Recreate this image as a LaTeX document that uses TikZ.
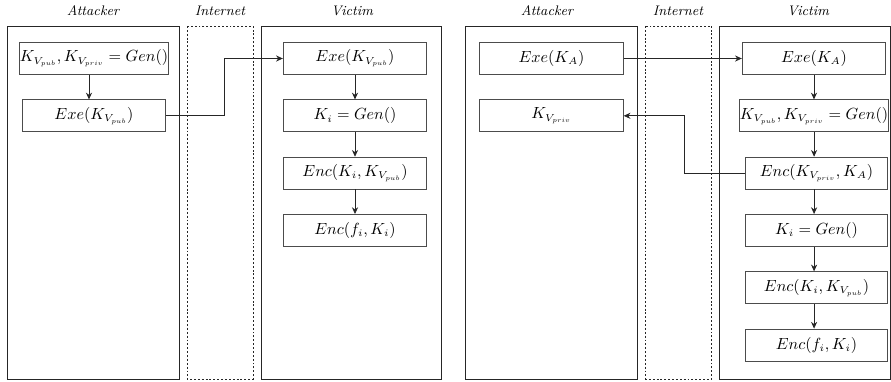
\RequirePackage{fix-cm}
\documentclass[tikz,border=0pt]{standalone}
\DeclareMathSizes{10}{10}{6.2}{4}
\usetikzlibrary{arrows.meta}
\begin{document}
\begin{tikzpicture}[x=0.62pt,y=-0.62pt,
  frame/.style={draw=black!85, line width=0.5pt},
  netframe/.style={draw=black!85, line width=0.5pt, dash pattern=on 1.2pt off 1.2pt},
  box/.style={draw=black!70, line width=0.5pt, minimum width=89pt, minimum height=19.8pt, inner sep=0pt, font=\normalsize},
  ttl/.style={font=\fontsize{8.6}{10}\selectfont\itshape, inner sep=0pt},
  arr/.style={draw=black!85, line width=0.5pt, -{Stealth[length=4.2pt,width=3.8pt]}}]
\useasboundingbox (0,0) rectangle (891,381);
% ---------- left panel ----------
\node[ttl] (tA) at (93,11) {Attacker};
\node[ttl] (tI) at (220,11) {Internet};
\node[ttl] (tV) at (352,11) {Victim};
\draw[frame] (7.3,26) rectangle (179,379);
\draw[netframe] (187,26) rectangle (253,379);
\draw[frame] (261,26) rectangle (441,379);
\node[box] (a1) at (94,58.5) {$K_{V_{pub}}, K_{V_{priv}} = Gen()$};
\node[box] (a2) at (94,115.8) {$Exe(K_{V_{pub}})$};
\node[box] (v1) at (355,58.5) {$Exe(K_{V_{pub}})$};
\node[box] (v2) at (355,115.8) {$K_i = Gen()$};
\node[box] (v3) at (355,173.1) {$Enc(K_i, K_{V_{pub}})$};
\node[box] (v4) at (355,230.4) {$Enc(f_i, K_i)$};
\draw[arr] ([xshift=-3.1pt]a1.south) -- ([xshift=-3.1pt]a2.north);
\draw[arr] (v1) -- (v2);
\draw[arr] (v2) -- (v3);
\draw[arr] (v3) -- (v4);
\draw[arr] (a2.east) -- ++(58,0) |- (v1.west);
% ---------- right panel ----------
\node[ttl] (tA2) at (547,11) {Attacker};
\node[ttl] (tI2) at (678,11) {Internet};
\node[ttl] (tV2) at (808,11) {Victim};
\draw[frame] (465.7,26) rectangle (637.5,379);
\draw[netframe] (645.7,26) rectangle (711.7,379);
\draw[frame] (719.3,26) rectangle (890.5,379);
\node[box] (b1) at (551.5,58.5) {$Exe(K_A)$};
\node[box] (b2) at (551.5,115.8) {$K_{V_{priv}}$};
\node[box] (w1) at (814,58.5) {$Exe(K_A)$};
\node[box] (w2) at (814,115.8) {$K_{V_{pub}}, K_{V_{priv}} = Gen()$};
\node[box, minimum width=87.8pt] (w3) at (816.5,173.1) {$Enc(K_{V_{priv}}, K_A)$};
\node[box, minimum width=87.8pt] (w4) at (816.5,230.4) {$K_i = Gen()$};
\node[box, minimum width=87.8pt] (w5) at (816.5,287.7) {$Enc(K_i, K_{V_{pub}})$};
\node[box, minimum width=87.8pt] (w6) at (816.5,345) {$Enc(f_i, K_i)$};
\draw[arr] (b1) -- (w1);
\draw[arr] (w1) -- (w2);
\draw[arr] ([xshift=-1.5pt]w3.north |- w2.south) -- ([xshift=-1.5pt]w3.north);
\draw[arr] ([xshift=-1.5pt]w3.south) -- ([xshift=-1.5pt]w4.north);
\draw[arr] ([xshift=-1.5pt]w4.south) -- ([xshift=-1.5pt]w5.north);
\draw[arr] ([xshift=-1.5pt]w5.south) -- ([xshift=-1.5pt]w6.north);
\draw[arr] (w3.west) -- ++(-61,0) |- (b2.east);
\end{tikzpicture}
\end{document}
